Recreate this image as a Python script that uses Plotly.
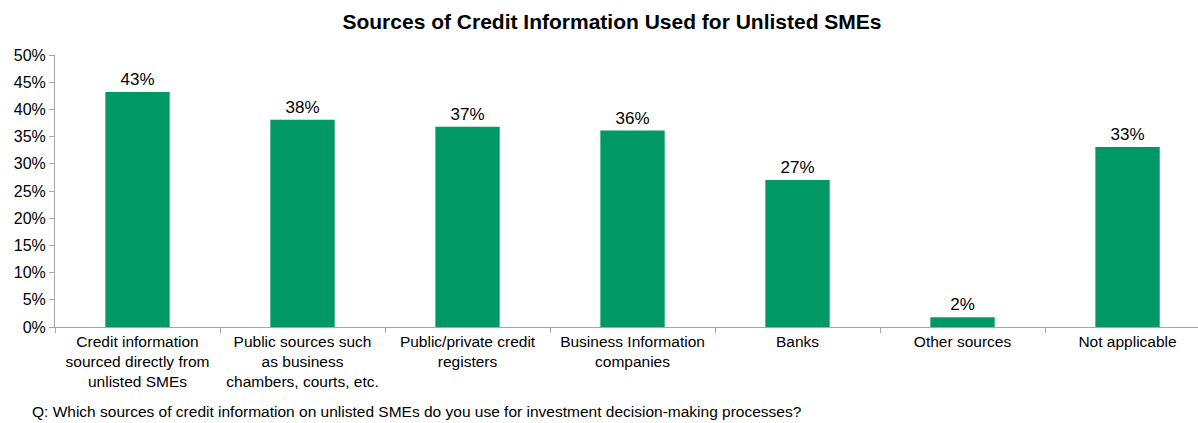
import plotly.graph_objects as go

categories = [
    "Credit information<br>sourced directly from<br>unlisted SMEs",
    "Public sources such<br>as business<br>chambers, courts, etc.",
    "Public/private credit<br>registers",
    "Business Information<br>companies",
    "Banks",
    "Other sources",
    "Not applicable",
]
values = [0.432, 0.381, 0.368, 0.361, 0.270, 0.018, 0.331]
ytick_vals = [0, 0.05, 0.10, 0.15, 0.20, 0.25, 0.30, 0.35, 0.40, 0.45, 0.50]
ytick_text = ["0%", "5%", "10%", "15%", "20%", "25%", "30%", "35%", "40%", "45%", "50%"]

FONT = "Liberation Sans, Arial, sans-serif"
GREEN = "#009966"
AXIS = "#A6A6A6"

fig = go.Figure()
fig.add_trace(go.Bar(
    x=categories,
    y=values,
    marker=dict(color=GREEN, line=dict(width=0)),
    width=0.39,
    text=[f"{round(v*100)}%" for v in values],
    textposition="outside",
    textfont=dict(family=FONT, size=17, color="#000000"),
    cliponaxis=False,
))

fig.update_layout(
    width=1198, height=423,
    margin=dict(l=55, r=0, t=55, b=96),
    paper_bgcolor="white", plot_bgcolor="white",
    showlegend=False,
    title=dict(
        text="<b>Sources of Credit Information Used for Unlisted SMEs</b>",
        x=612/1198, xanchor="center", y=1 - 22/423, yanchor="middle",
        font=dict(family=FONT, size=21, color="#000000"),
    ),
    font=dict(family=FONT, size=15, color="#000000"),
)
fig.update_xaxes(
    type="category",
    range=[-0.5, 6.427],
    showline=True, linecolor=AXIS, linewidth=1,
    ticks="outside", tickson="boundaries", ticklen=5, tickcolor=AXIS,
    tickfont=dict(family=FONT, size=15.5, color="#000000"),
    showgrid=False, zeroline=False,
)
fig.update_yaxes(
    range=[0, 0.5],
    tickvals=ytick_vals, ticktext=ytick_text,
    showline=True, linecolor=AXIS, linewidth=1,
    ticks="outside", ticklen=5, tickcolor=AXIS,
    tickfont=dict(family=FONT, size=16, color="#000000"),
    showgrid=False, zeroline=False,
)
fig.add_annotation(
    text="Q: Which sources of credit information on unlisted SMEs do you use for investment decision-making processes?",
    xref="paper", yref="paper", x=-(55 - 30) / 1143, y=-(411 - 327) / 272,
    xanchor="left", yanchor="middle", showarrow=False,
    font=dict(family=FONT, size=15.5, color="#000000"),
)

fig.write_html("out.html")
